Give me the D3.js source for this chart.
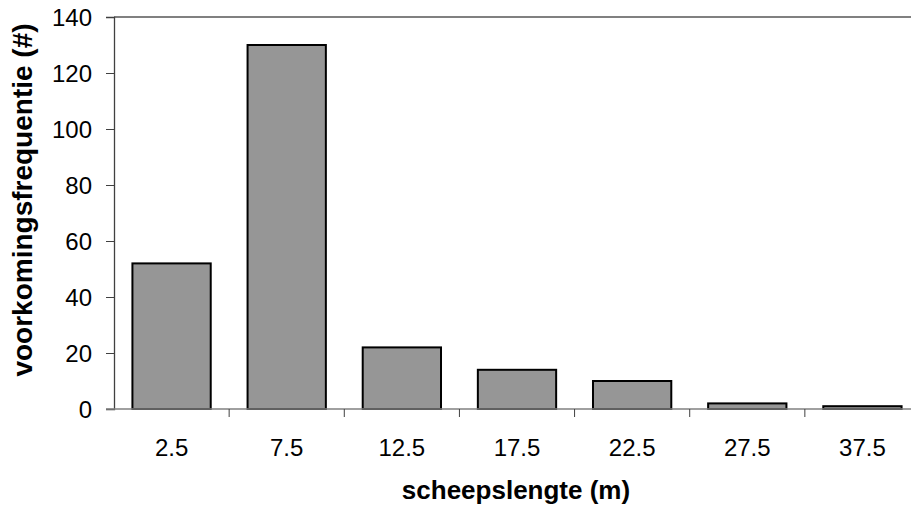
<!DOCTYPE html>
<html><head><meta charset="utf-8">
<script src="https://cdn.jsdelivr.net/npm/d3@7"></script>
<style>body{margin:0;background:#fff}svg{display:block}text{font-family:"Liberation Sans",Arial,sans-serif}</style>
</head><body>
<svg id="c" width="911" height="510"></svg>
<script>
const categories = ["2.5","7.5","12.5","17.5","22.5","27.5","37.5"];
const values = [52,130,22,14,10,2,1];
const yTicks = [0,20,40,60,80,100,120,140];

const svg = d3.select("#c");
const L = 114, R = 920, T = 17, B = 409;
const x = d3.scaleBand().domain(categories).range([L, R]).paddingInner(0.32).paddingOuter(0.16);
const xEdge = d3.scaleBand().domain(categories).range([L, R]);
const y = d3.scaleLinear().domain([0,140]).range([B, T]);

// top border
svg.append("line").attr("x1",L).attr("x2",R).attr("y1",T).attr("y2",T).attr("stroke","#808080").attr("stroke-width",2);

// bars
svg.selectAll("rect.bar").data(values).enter().append("rect")
  .attr("x",(d,i)=>x(categories[i])).attr("width",x.bandwidth())
  .attr("y",d=>y(d)).attr("height",d=>B-y(d))
  .attr("fill","#969696").attr("stroke","#000").attr("stroke-width",2);

// y axis
const ya = svg.append("g").attr("transform",`translate(${L},0)`).call(d3.axisLeft(y).tickValues(yTicks).tickSize(8).tickPadding(14));
ya.select(".domain").attr("stroke","#404040").attr("stroke-width",1.3);
ya.selectAll(".tick line").attr("stroke","#404040");
ya.selectAll("text").attr("font-size",24).attr("fill","#000").attr("dy","0.35em");

// x axis
const xa = svg.append("g").attr("transform",`translate(0,${B})`).call(d3.axisBottom(x).tickSize(0).tickPadding(0));
xa.select(".domain").remove();
xa.selectAll("text").attr("font-size",24).attr("fill","#000").attr("dy",null).attr("y",47);
svg.append("line").attr("x1",L-8).attr("x2",R).attr("y1",B).attr("y2",B).attr("stroke","#808080").attr("stroke-width",1.5);
svg.selectAll("line.xt").data(categories.slice(1)).enter().append("line")
  .attr("x1",d=>xEdge(d)).attr("x2",d=>xEdge(d)).attr("y1",B).attr("y2",B+8).attr("stroke","#404040");

// titles
svg.append("text").attr("x",516).attr("y",499).attr("text-anchor","middle")
  .attr("font-size",26).attr("font-weight","bold").text("scheepslengte (m)");
svg.append("text").attr("transform",`translate(32,200) rotate(-90)`).attr("text-anchor","middle")
  .attr("font-size",28).attr("font-weight","bold").text("voorkomingsfrequentie (#)");
</script>
</body></html>
